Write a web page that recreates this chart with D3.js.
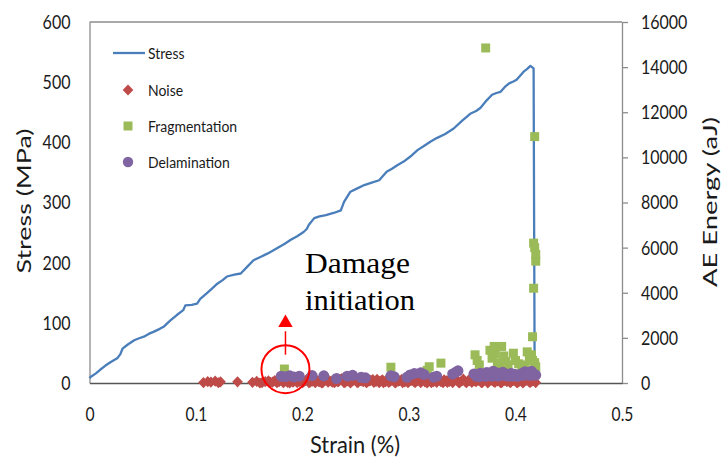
<!DOCTYPE html>
<html><head><meta charset="utf-8">
<script src="https://cdn.jsdelivr.net/npm/d3@7"></script>
<style>
html,body{margin:0;padding:0;background:#fff;}
svg{display:block;font-family:Lato,"Open Sans",sans-serif;}
</style></head>
<body><svg id="c" width="724" height="461"></svg>
<script>
// ---------- DATA ----------
const strainTicks = [0, 0.1, 0.2, 0.3, 0.4, 0.5];
const stressTicks = [0, 100, 200, 300, 400, 500, 600];
const energyTicks = [0, 2000, 4000, 6000, 8000, 10000, 12000, 14000, 16000];

// Stress curve: [strain %, stress MPa]
const stressStrain = [0.000, 0.001, 0.006, 0.010, 0.015, 0.020, 0.024, 0.026, 0.029, 0.031, 0.036, 0.042, 0.046, 0.051, 0.056, 0.060, 0.066, 0.070, 0.076, 0.082, 0.088, 0.090, 0.096, 0.101, 0.104, 0.110, 0.115, 0.120, 0.125, 0.129, 0.136, 0.142, 0.148, 0.154, 0.160, 0.167, 0.172, 0.176, 0.183, 0.189, 0.195, 0.201, 0.204, 0.206, 0.211, 0.216, 0.222, 0.230, 0.236, 0.239, 0.245, 0.251, 0.258, 0.265, 0.272, 0.279, 0.284, 0.289, 0.295, 0.301, 0.308, 0.314, 0.320, 0.326, 0.334, 0.342, 0.350, 0.358, 0.363, 0.367, 0.372, 0.378, 0.382, 0.386, 0.390, 0.394, 0.398, 0.401, 0.405, 0.408, 0.411, 0.414, 0.417, 0.418];
const stressValues = [8, 10, 16, 22, 29, 35, 39, 41, 48, 57, 64, 71, 74, 77, 82, 85, 90, 94, 104, 113, 121, 129, 130, 132, 140, 149, 157, 165, 171, 177, 180, 182, 193, 204, 209, 215, 220, 224, 231, 238, 244, 251, 256, 263, 274, 277, 279, 283, 287, 301, 318, 323, 329, 333, 337, 351, 356, 362, 368, 376, 387, 394, 401, 407, 414, 423, 436, 448, 452, 457, 468, 479, 482, 484, 492, 498, 501, 504, 512, 518, 522, 527, 523, 0];

// AE events: Noise
const noiseStrain = [0.107, 0.111, 0.114, 0.118, 0.121, 0.123, 0.139, 0.153, 0.157, 0.160, 0.162, 0.165, 0.168, 0.170, 0.172, 0.174, 0.176, 0.178, 0.180, 0.182, 0.183, 0.185, 0.186, 0.188, 0.189, 0.191, 0.192, 0.194, 0.195, 0.197, 0.198, 0.200, 0.201, 0.203, 0.204, 0.206, 0.207, 0.209, 0.210, 0.212, 0.213, 0.215, 0.216, 0.218, 0.219, 0.221, 0.222, 0.224, 0.225, 0.227, 0.228, 0.230, 0.231, 0.233, 0.234, 0.236, 0.237, 0.239, 0.240, 0.242, 0.243, 0.245, 0.246, 0.248, 0.249, 0.251, 0.252, 0.254, 0.255, 0.257, 0.258, 0.260, 0.261, 0.263, 0.264, 0.266, 0.267, 0.269, 0.270, 0.272, 0.273, 0.275, 0.276, 0.278, 0.279, 0.281, 0.282, 0.284, 0.285, 0.287, 0.288, 0.290, 0.291, 0.293, 0.294, 0.296, 0.297, 0.299, 0.300, 0.302, 0.303, 0.305, 0.306, 0.308, 0.309, 0.311, 0.312, 0.314, 0.315, 0.317, 0.318, 0.320, 0.321, 0.323, 0.324, 0.326, 0.327, 0.329, 0.330, 0.332, 0.333, 0.335, 0.336, 0.338, 0.339, 0.341, 0.342, 0.344, 0.345, 0.347, 0.348, 0.350, 0.351, 0.353, 0.354, 0.356, 0.357, 0.359, 0.360, 0.362, 0.363, 0.365, 0.366, 0.368, 0.369, 0.371, 0.372, 0.374, 0.375, 0.377, 0.378, 0.380, 0.381, 0.383, 0.384, 0.386, 0.387, 0.389, 0.390, 0.392, 0.393, 0.395, 0.396, 0.398, 0.399, 0.401, 0.402, 0.404, 0.405, 0.407, 0.408, 0.410, 0.411, 0.413, 0.414, 0.416, 0.417, 0.419];
const noiseEnergy = [20, 60, 40, 80, 10, 50, 50, 30, 70, 0, 20, 60, 90, 30, 40, 110, 10, 60, 120, 20, 60, 90, 30, 0, 150, 40, 80, 130, 20, 70, 110, 10, 50, 100, 160, 20, 30, 80, 90, 10, 140, 70, 60, 0, 20, 120, 170, 40, 100, 80, 40, 10, 130, 60, 70, 150, 200, 20, 30, 90, 110, 0, 60, 130, 150, 40, 20, 110, 90, 60, 180, 10, 50, 90, 120, 150, 30, 70, 160, 20, 80, 140, 10, 60, 140, 30, 60, 120, 190, 0, 40, 80, 100, 150, 20, 50, 170, 10, 70, 110, 130, 40, 30, 100, 200, 20, 90, 140, 50, 0, 150, 80, 20, 60, 110, 30, 180, 120, 60, 10, 140, 90, 30, 70, 210, 20, 80, 150, 120, 0, 40, 100, 170, 50, 10, 130, 100, 30, 190, 80, 60, 120, 140, 20, 30, 160, 220, 0, 80, 130, 120, 40, 40, 90, 180, 10, 20, 140, 100, 60, 160, 20, 50, 110, 130, 30, 20, 80, 200, 0, 70, 120, 150, 40, 30, 90, 110, 20, 60];

// AE events: Fragmentation
const fragStrain = [0.183, 0.283, 0.317, 0.319, 0.330, 0.362, 0.364, 0.366, 0.376, 0.378, 0.380, 0.381, 0.383, 0.385, 0.387, 0.389, 0.391, 0.393, 0.398, 0.400, 0.403, 0.406, 0.409, 0.411, 0.413, 0.415, 0.416, 0.416, 0.419, 0.418, 0.372, 0.418, 0.417, 0.418, 0.419, 0.419, 0.417];
const fragEnergy = [620, 700, 560, 720, 880, 1250, 1000, 800, 1450, 1100, 1620, 1300, 900, 750, 1620, 1200, 950, 800, 1320, 1000, 850, 700, 800, 1380, 1100, 1250, 2050, 1000, 720, 900, 14850, 10920, 6200, 6000, 5700, 5400, 4200];

// AE events: Delamination
const delamStrain = [0.180, 0.184, 0.188, 0.192, 0.197, 0.209, 0.220, 0.232, 0.242, 0.247, 0.255, 0.259, 0.283, 0.286, 0.298, 0.301, 0.305, 0.311, 0.314, 0.323, 0.326, 0.341, 0.344, 0.346, 0.361, 0.363, 0.364, 0.366, 0.367, 0.369, 0.370, 0.372, 0.373, 0.375, 0.376, 0.378, 0.379, 0.381, 0.382, 0.384, 0.385, 0.387, 0.388, 0.390, 0.391, 0.393, 0.394, 0.396, 0.397, 0.399, 0.400, 0.402, 0.403, 0.405, 0.406, 0.408, 0.409, 0.411, 0.412, 0.414, 0.415, 0.417, 0.419];
const delamEnergy = [300, 280, 320, 270, 300, 330, 320, 200, 300, 340, 250, 230, 320, 280, 250, 360, 420, 450, 380, 260, 300, 400, 480, 540, 400, 300, 350, 280, 430, 330, 380, 290, 460, 350, 400, 300, 520, 340, 450, 300, 380, 420, 480, 330, 400, 300, 360, 420, 300, 350, 380, 290, 330, 380, 420, 340, 500, 380, 450, 340, 520, 400, 350];

const legendLabels = ["Stress", "Noise", "Fragmentation", "Delamination"];
const colors = {stress: "#4a7ebb", noise: "#be4b48", frag: "#9bbb59", delam: "#8064a2"};

// ---------- CHART ----------
const svg = d3.select("#c");
const x = d3.scaleLinear().domain([0, 0.5]).range([89.5, 622]);
const yL = d3.scaleLinear().domain([0, 600]).range([383, 22]);
const yR = d3.scaleLinear().domain([0, 16000]).range([383, 22]);

function squeeze(sel, f) {
  sel.each(function () {
    const w = this.getComputedTextLength();
    this.setAttribute("textLength", (w * f).toFixed(1));
    this.setAttribute("lengthAdjust", "spacingAndGlyphs");
  });
}
const diamondPath = "M0,-5.6L5.3,0L0,5.6L-5.3,0Z";

// frame top line
svg.append("line").attr("x1", x(0)).attr("x2", x(0.5)).attr("y1", yL(600)).attr("y2", yL(600))
  .attr("stroke", "#8c8c8c").attr("stroke-width", 1.3);

// left axis
const gL = svg.append("g").attr("transform", `translate(${x(0)},0)`)
  .call(d3.axisLeft(yL).tickValues(stressTicks).tickSize(0).tickPadding(19));
gL.select(".domain").attr("stroke", "#8c8c8c").attr("stroke-width", 1.3);
gL.selectAll("text").attr("font-size", 20).attr("fill", "#1a1a1a").attr("font-family", "Lato");
squeeze(gL.selectAll("text"), 0.8);

// right axis
const gR = svg.append("g").attr("transform", `translate(${x(0.5)},0)`)
  .call(d3.axisRight(yR).tickValues(energyTicks).tickSizeInner(6).tickSizeOuter(0).tickPadding(13).tickFormat(d3.format("d")));
gR.select(".domain").attr("stroke", "#8c8c8c").attr("stroke-width", 1.3);
gR.selectAll(".tick line").attr("stroke", "#8c8c8c").attr("stroke-width", 1.3);
gR.selectAll("text").attr("font-size", 20).attr("fill", "#1a1a1a").attr("font-family", "Lato");
squeeze(gR.selectAll("text"), 0.8);

// bottom axis
const gB = svg.append("g").attr("transform", `translate(0,${yL(0)})`)
  .call(d3.axisBottom(x).tickValues(strainTicks).tickSize(0).tickPadding(24).tickFormat(d => d === 0 ? "0" : d3.format(".1f")(d)));
gB.select(".domain").attr("stroke", "#555").attr("stroke-width", 1.5);
gB.selectAll("text").attr("font-size", 20).attr("fill", "#1a1a1a").attr("font-family", "Lato");
squeeze(gB.selectAll("text"), 0.78);

// axis titles
svg.append("text").attr("transform", `translate(31,${yL(0) - 182}) rotate(-90)`)
  .attr("text-anchor", "middle").attr("font-size", 20).attr("fill", "#1a1a1a").text("Stress (MPa)")
  .attr("textLength", 145).attr("lengthAdjust", "spacingAndGlyphs");
svg.append("text").attr("transform", `translate(717,${yL(0) - 181}) rotate(-90)`)
  .attr("text-anchor", "middle").attr("font-size", 20).attr("fill", "#1a1a1a").text("AE Energy (aJ)")
  .attr("textLength", 170).attr("lengthAdjust", "spacingAndGlyphs");
svg.append("text").attr("x", 355).attr("y", 453)
  .attr("text-anchor", "middle").attr("font-size", 24).attr("fill", "#1a1a1a").text("Strain (%)")
  .attr("textLength", 90).attr("lengthAdjust", "spacingAndGlyphs");

// stress line
const stressData = stressStrain.map((s, i) => [s, stressValues[i]]);
svg.append("path").datum(stressData)
  .attr("fill", "none").attr("stroke", colors.stress).attr("stroke-width", 2.3).attr("stroke-linejoin", "round")
  .attr("d", d3.line().x(d => x(d[0])).y(d => yL(d[1])));

// noise diamonds
svg.append("g").selectAll("path").data(noiseStrain.map((s, i) => [s, noiseEnergy[i]])).join("path")
  .attr("d", diamondPath).attr("transform", d => `translate(${x(d[0])},${yR(d[1])})`)
  .attr("fill", colors.noise);

// fragmentation squares
svg.append("g").selectAll("rect").data(fragStrain.map((s, i) => [s, fragEnergy[i]])).join("rect")
  .attr("x", d => x(d[0]) - 4.5).attr("y", d => yR(d[1]) - 4.5).attr("width", 9).attr("height", 9)
  .attr("fill", colors.frag);

// delamination circles
svg.append("g").selectAll("circle").data(delamStrain.map((s, i) => [s, delamEnergy[i]])).join("circle")
  .attr("cx", d => x(d[0])).attr("cy", d => yR(d[1])).attr("r", 5.5)
  .attr("fill", colors.delam);

// legend
const lg = svg.append("g");
const ly = [53, 90, 126, 162];
lg.append("line").attr("x1", 113).attr("x2", 145).attr("y1", ly[0]).attr("y2", ly[0])
  .attr("stroke", colors.stress).attr("stroke-width", 2.3);
lg.append("path").attr("d", diamondPath).attr("transform", `translate(128,${ly[1]})`).attr("fill", colors.noise);
lg.append("rect").attr("x", 123.5).attr("y", ly[2] - 4.5).attr("width", 9).attr("height", 9).attr("fill", colors.frag);
lg.append("circle").attr("cx", 128).attr("cy", ly[3]).attr("r", 5.2).attr("fill", colors.delam);
const lt = lg.selectAll("text.lab").data(legendLabels).join("text").attr("class", "lab")
  .attr("x", 148).attr("y", (d, i) => ly[i]).attr("dy", "0.36em")
  .attr("font-size", 15.5).attr("fill", "#1a1a1a").text(d => d);
squeeze(lt, 0.9);

// annotation
const red = "#ff0000";
svg.append("circle").attr("cx", x(0.184)).attr("cy", yL(23)).attr("r", 24)
  .attr("fill", "none").attr("stroke", red).attr("stroke-width", 2);
svg.append("line").attr("x1", x(0.184)).attr("x2", x(0.184)).attr("y1", yL(47)).attr("y2", yL(86))
  .attr("stroke", red).attr("stroke-width", 1.5);
svg.append("path").attr("d", d3.symbol().type(d3.symbolTriangle).size(90))
  .attr("transform", `translate(${x(0.184)},${yL(100)})`).attr("fill", red);
svg.append("text").attr("x", 305).attr("y", 273).attr("font-family", "'Liberation Serif','Times New Roman',serif")
  .attr("font-size", 29).attr("fill", "#000").text("Damage")
  .attr("textLength", 105).attr("lengthAdjust", "spacingAndGlyphs");
svg.append("text").attr("x", 305).attr("y", 310).attr("font-family", "'Liberation Serif','Times New Roman',serif")
  .attr("font-size", 29).attr("fill", "#000").text("initiation")
  .attr("textLength", 110).attr("lengthAdjust", "spacingAndGlyphs");
</script></body></html>
